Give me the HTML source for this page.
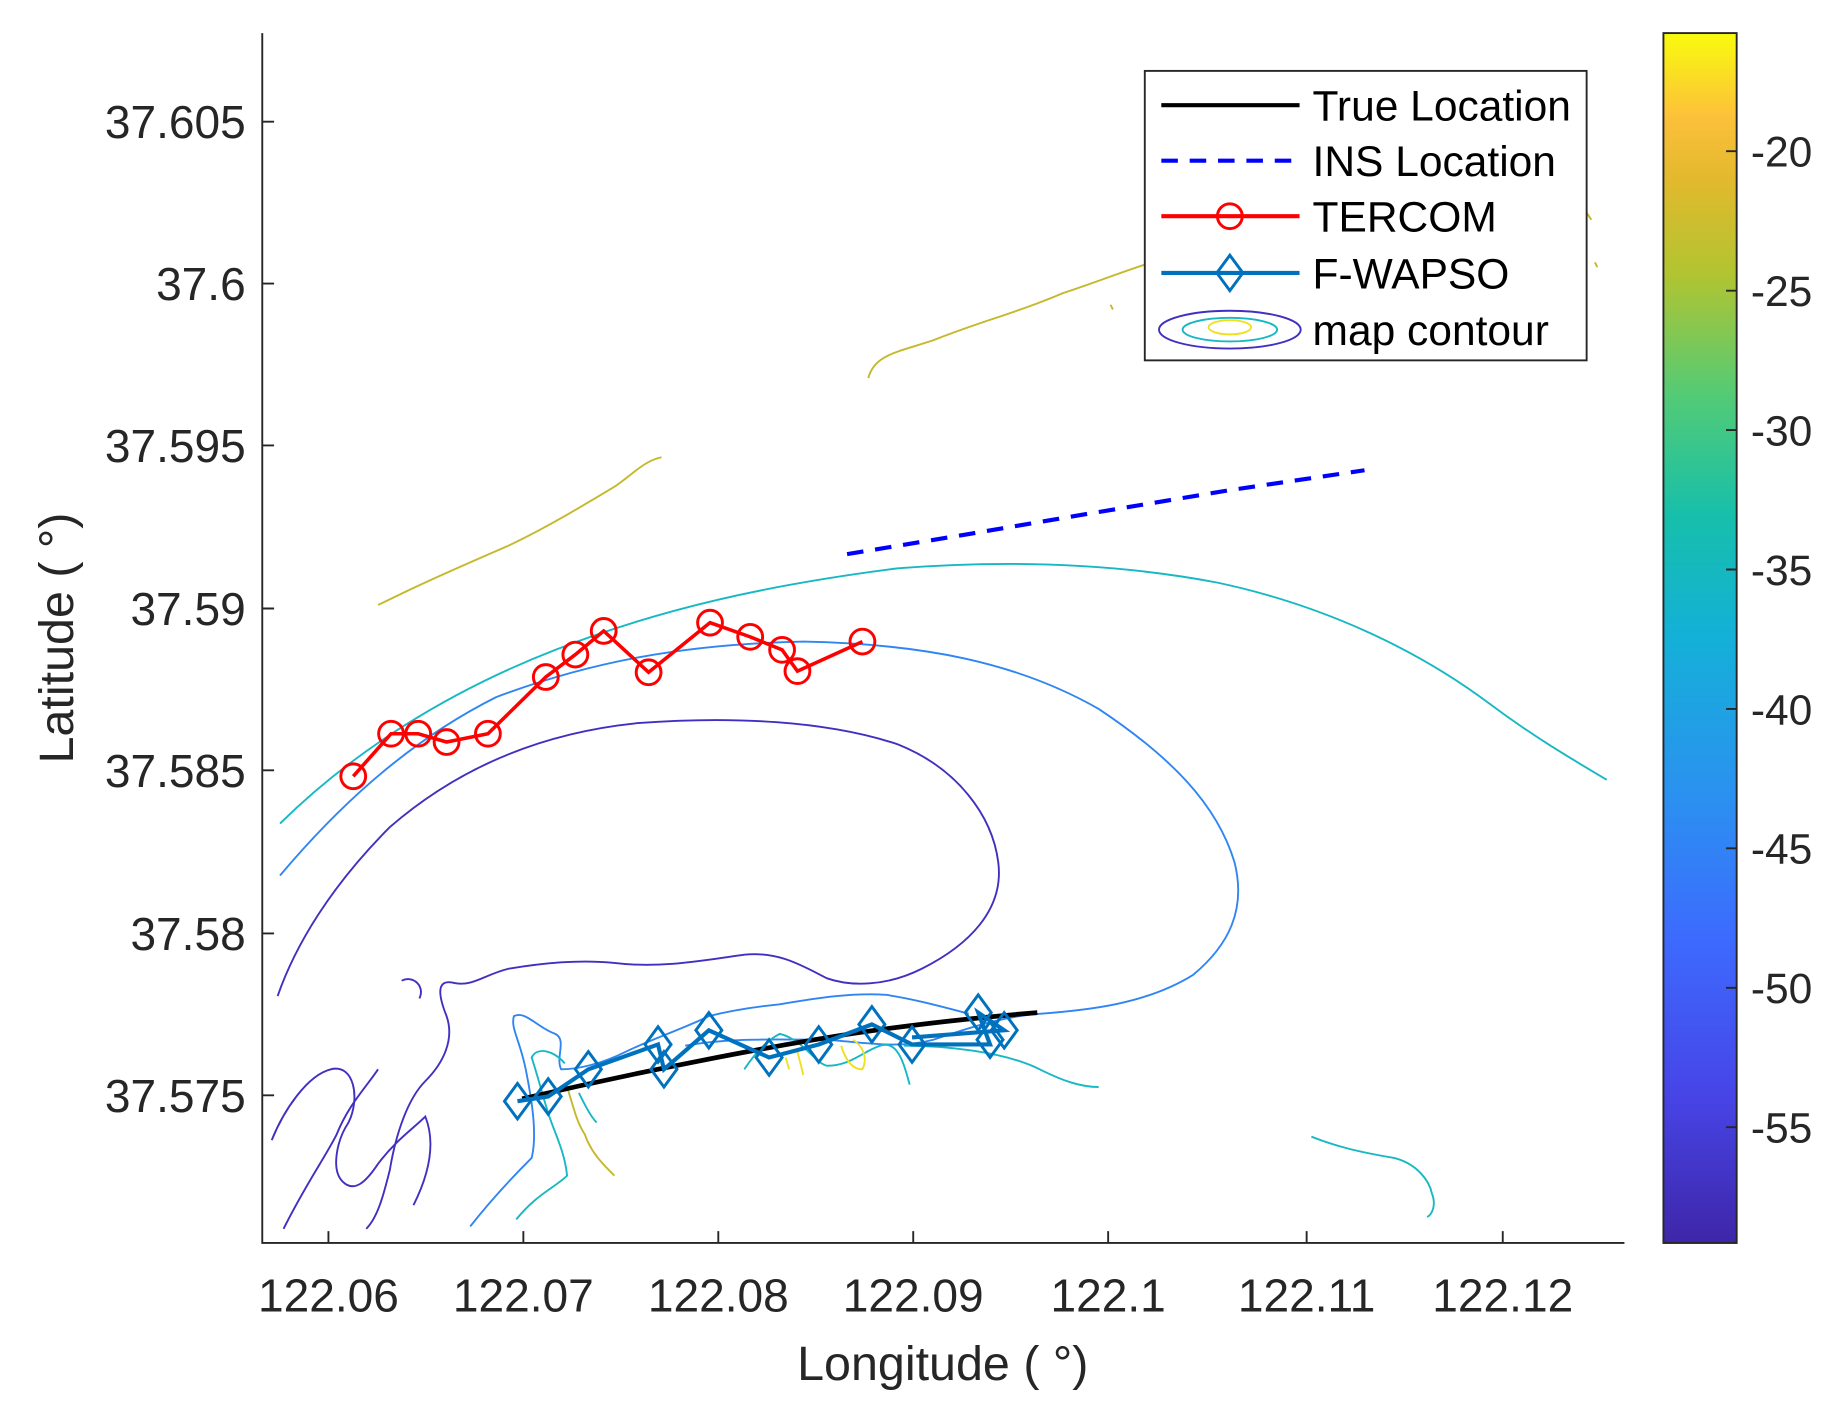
<!DOCTYPE html>
<html><head><meta charset="utf-8"><style>html,body{margin:0;padding:0;background:#fff}svg{display:block}</style></head>
<body>
<svg width="1843" height="1411" viewBox="0 0 1560 1194.2" preserveAspectRatio="none" xmlns="http://www.w3.org/2000/svg" font-family="Liberation Sans, sans-serif">
<defs>
<linearGradient id="par" x1="0" y1="1" x2="0" y2="0">
<stop offset="0" stop-color="#3e26a8"/>
<stop offset="0.12" stop-color="#4744e6"/>
<stop offset="0.25" stop-color="#3d6afe"/>
<stop offset="0.37" stop-color="#2b91f0"/>
<stop offset="0.5" stop-color="#14b0d8"/>
<stop offset="0.6" stop-color="#16bfab"/>
<stop offset="0.7" stop-color="#52cb76"/>
<stop offset="0.8" stop-color="#b1c431"/>
<stop offset="0.88" stop-color="#e3b92d"/>
<stop offset="0.93" stop-color="#fcc03a"/>
<stop offset="1" stop-color="#f9fb0e"/>
</linearGradient>
</defs>
<g fill="none" stroke-width="1.6">
<path stroke="#17b8c4" d="M237,697 C300,635 380,585 470,550 C560,515 650,495 760,481 C850,474 940,476 1030,493 C1120,512 1200,550 1260,595 C1300,625 1335,645 1360,660"/>
<path stroke="#2f86f2" d="M237,741 C280,690 340,630 420,590 C500,560 580,545 680,543 C780,545 860,560 930,600 C990,640 1030,680 1045,730 C1055,770 1040,800 1010,825 C970,850 920,855 880,858 C850,860 820,870 790,880 C760,888 730,882 700,880 C660,880 620,878 580,885"/>
<path stroke="#4130c0" d="M235,843 C250,800 280,750 330,700 C390,648 460,620 540,612 C620,606 700,610 760,630 C810,650 840,690 845,730 C850,770 820,800 780,820 C750,835 720,835 700,828 C680,818 660,805 630,808 C600,812 560,820 520,815 C490,812 460,815 430,820 C410,825 400,835 385,832 C370,828 370,840 378,860 C385,880 375,900 360,915 C345,930 335,960 330,990 C325,1010 320,1030 310,1040"/>
<path stroke="#4130c0" d="M240,1040 C260,1000 275,980 285,960 C295,935 310,920 320,905"/>
<path stroke="#4130c0" d="M230,965 C240,940 260,910 280,905 C300,900 305,930 295,950 C285,965 280,990 290,1000 C300,1010 310,1000 320,985 C335,965 350,955 360,945 C368,965 365,990 350,1020"/>
<path stroke="#4130c0" d="M340,830 C350,825 360,835 355,845"/>
<path stroke="#c5b82a" d="M320,512 L345,500 C370,488 400,475 430,462 C460,448 490,430 520,412 C535,402 545,390 560,387"/>
<path stroke="#c5b82a" d="M735,320 C740,300 760,298 790,288 C830,272 860,265 900,248 C930,238 950,230 975,222"/>
<path stroke="#c5b82a" d="M1343,180 L1347,186 M1350,222 L1352,226 M940,258 L942,262"/>
<path stroke="#17b8c4" d="M1110,962 C1130,970 1150,975 1180,980 C1200,985 1210,1000 1212,1010 C1216,1020 1212,1028 1208,1030"/>
<path stroke="#2f86f2" d="M398,1038 C420,1010 440,990 450,980 C455,960 450,930 445,905 C440,880 432,870 435,860 C445,855 455,870 470,875 C480,880 470,895 475,905 C490,905 510,900 530,890 C550,880 580,870 600,860 C620,855 640,852 660,850 C690,845 720,840 750,842 C770,845 790,850 820,858"/>
<path stroke="#17b8c4" d="M437,1032 C455,1010 470,1005 480,995 C478,975 470,960 465,945 C460,930 455,910 450,895 C455,885 470,890 478,900"/>
<path stroke="#17b8c4" d="M630,905 C640,890 650,880 660,875 C680,880 690,900 700,902 C720,902 730,890 745,885 C760,880 765,900 770,918"/>
<path stroke="#17b8c4" d="M765,885 C800,885 850,890 880,905 C900,915 915,920 930,920"/>
<path stroke="#17b8c4" d="M490,925 C495,935 500,945 505,950"/>
<path stroke="#c5b82a" d="M480,920 C485,935 488,950 495,960 C500,975 510,985 520,995"/>
<path stroke="#f0e020" d="M665,895 L668,905 M675,890 L680,910 M712,885 C715,895 720,905 730,905 C735,895 730,885 722,880"/>
</g>
<path d="M442,930 C550,905 650,886 720,875 C780,866 830,861 878,857" stroke="#000" stroke-width="4" fill="none"/>
<path d="M717,469 L820,452 L920,435 L1040,415 L1155,398" stroke="#0000ff" stroke-width="3.5" fill="none" stroke-dasharray="14,10"/>
<g stroke="#ff0000" stroke-width="2.5" fill="none">
<polyline stroke-width="3" points="299,657 331,621 354,621 378,628 413,621 462,573 487,554 511,534 549,569 601,527 635,539 662,550 675,568 730,543"/>
<circle cx="299" cy="657" r="10.5"/><circle cx="331" cy="621" r="10.5"/><circle cx="354" cy="621" r="10.5"/><circle cx="378" cy="628" r="10.5"/><circle cx="413" cy="621" r="10.5"/><circle cx="462" cy="573" r="10.5"/><circle cx="487" cy="554" r="10.5"/><circle cx="511" cy="534" r="10.5"/><circle cx="549" cy="569" r="10.5"/><circle cx="601" cy="527" r="10.5"/><circle cx="635" cy="539" r="10.5"/><circle cx="662" cy="550" r="10.5"/><circle cx="675" cy="568" r="10.5"/><circle cx="730" cy="543" r="10.5"/>
</g>
<g stroke="#0072bd" stroke-width="2.5" fill="none">
<polyline stroke-width="3.5" points="438,932 464,928 498,905 557,884 562,905 600,872 651,895 693,884 738,867 772,884 838,884 828,857 850,872 772,878"/>
<path d="M438,917 l11,15 l-11,15 l-11,-15z"/><path d="M464,913 l11,15 l-11,15 l-11,-15z"/><path d="M498,890 l11,15 l-11,15 l-11,-15z"/><path d="M557,869 l11,15 l-11,15 l-11,-15z"/><path d="M562,890 l11,15 l-11,15 l-11,-15z"/><path d="M600,857 l11,15 l-11,15 l-11,-15z"/><path d="M651,880 l11,15 l-11,15 l-11,-15z"/><path d="M693,869 l11,15 l-11,15 l-11,-15z"/><path d="M738,852 l11,15 l-11,15 l-11,-15z"/><path d="M772,869 l11,15 l-11,15 l-11,-15z"/><path d="M828,842 l11,15 l-11,15 l-11,-15z"/><path d="M838,865 l11,15 l-11,15 l-11,-15z"/><path d="M850,857 l11,15 l-11,15 l-11,-15z"/>
</g>
<g stroke="#262626" stroke-width="1.6" fill="none">
<path d="M222,28 L222,1052 L1375,1052"/>
<path d="M222,103 h10 M222,240 h10 M222,377 h10 M222,515 h10 M222,652 h10 M222,790 h10 M222,927 h10"/>
<path d="M278,1052 v-10 M443,1052 v-10 M608,1052 v-10 M773,1052 v-10 M938,1052 v-10 M1106,1052 v-10 M1272,1052 v-10"/>
</g>
<g font-size="39" fill="#262626" text-anchor="end">
<text x="208" y="117">37.605</text><text x="208" y="254">37.6</text><text x="208" y="391">37.595</text><text x="208" y="529">37.59</text><text x="208" y="666">37.585</text><text x="208" y="804">37.58</text><text x="208" y="941">37.575</text>
</g>
<g font-size="39" fill="#262626" text-anchor="middle">
<text x="278" y="1110">122.06</text><text x="443" y="1110">122.07</text><text x="608" y="1110">122.08</text><text x="773" y="1110">122.09</text><text x="938" y="1110">122.1</text><text x="1106" y="1110">122.11</text><text x="1272" y="1110">122.12</text>
<text x="798" y="1168" font-size="41">Longitude ( °)</text>
<text transform="translate(62,540) rotate(-90)" font-size="41">Latitude ( °)</text>
</g>
<rect x="969" y="60" width="374" height="245" fill="#fff" stroke="#262626" stroke-width="1.6"/>
<g stroke-width="3.5" fill="none">
<path d="M983,89 H1100" stroke="#000"/>
<path d="M983,136 H1100" stroke="#0000ff" stroke-dasharray="14,10"/>
<path d="M983,183 H1100" stroke="#ff0000"/>
<circle cx="1041" cy="183" r="10.5" stroke="#ff0000" stroke-width="2.5"/>
<path d="M983,231 H1100" stroke="#0072bd"/>
<path d="M1041,216 l11,15 l-11,15 l-11,-15z" stroke="#0072bd" stroke-width="2.5"/>
<ellipse cx="1041" cy="279" rx="60" ry="16" stroke="#4130c0" stroke-width="1.6"/>
<ellipse cx="1041" cy="279" rx="40" ry="10" stroke="#17b8c4" stroke-width="1.6"/>
<ellipse cx="1041" cy="277" rx="18" ry="6" stroke="#f0e020" stroke-width="1.6"/>
</g>
<g font-size="36" fill="#000">
<text x="1111" y="102">True Location</text><text x="1111" y="149">INS Location</text><text x="1111" y="196">TERCOM</text><text x="1111" y="244">F-WAPSO</text><text x="1111" y="292">map contour</text>
</g>
<rect x="1408" y="28" width="62" height="1024" fill="url(#par)" stroke="#262626" stroke-width="1.6"/>
<g stroke="#262626" stroke-width="1.6"><path d="M1470,128 h-9 M1470,246 h-9 M1470,364 h-9 M1470,482 h-9 M1470,600 h-9 M1470,718 h-9 M1470,836 h-9 M1470,954 h-9"/></g>
<g font-size="36" fill="#262626">
<text x="1482" y="141">-20</text><text x="1482" y="259">-25</text><text x="1482" y="377">-30</text><text x="1482" y="495">-35</text><text x="1482" y="613">-40</text><text x="1482" y="731">-45</text><text x="1482" y="849">-50</text><text x="1482" y="967">-55</text>
</g>
</svg>
</body></html>
